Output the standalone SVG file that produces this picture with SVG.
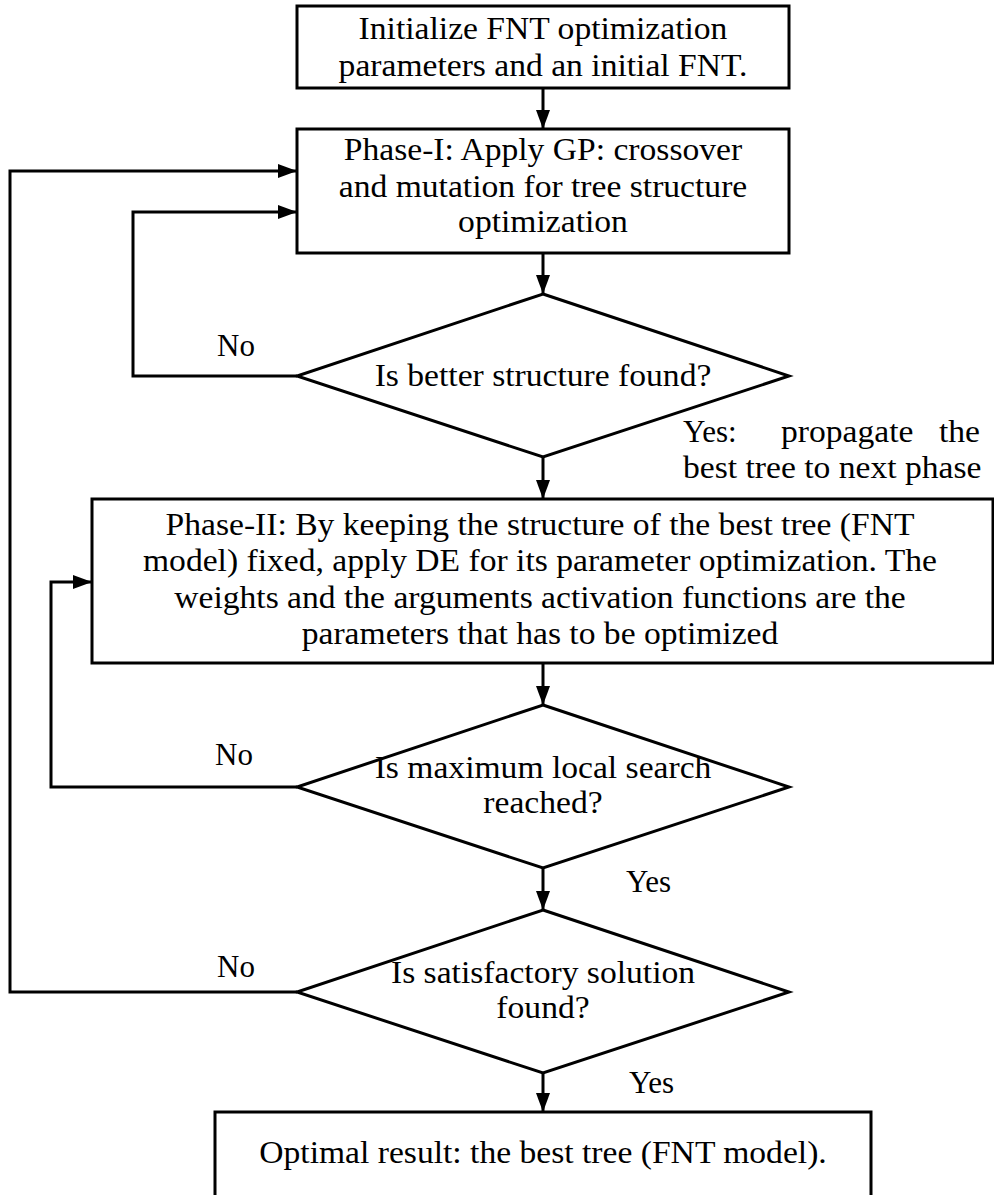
<svg xmlns="http://www.w3.org/2000/svg" width="994" height="1195" viewBox="0 0 994 1195" font-family="Liberation Serif, serif" font-size="32">
<defs>
<style>
.shape{fill:#fff;stroke:#000;stroke-width:3;stroke-linejoin:miter}
.conn{fill:none;stroke:#000;stroke-width:3;stroke-linejoin:miter}
text{fill:#000}
.c{text-anchor:middle}
.e{text-anchor:end}
</style>
<marker id="arr" viewBox="0 0 19 14" refX="19" refY="7" markerWidth="19" markerHeight="14" markerUnits="userSpaceOnUse" orient="auto">
<path d="M0,0 L19,7 L0,14 z" fill="#000"/>
</marker>
</defs>
<rect width="994" height="1195" fill="#fff"/>

<g id="connectors">
<path class="conn" d="M543,88 V129" marker-end="url(#arr)"/>
<path class="conn" d="M543,253 V294" marker-end="url(#arr)"/>
<path class="conn" d="M543,457 V499" marker-end="url(#arr)"/>
<path class="conn" d="M543,663 V705" marker-end="url(#arr)"/>
<path class="conn" d="M543,868 V910" marker-end="url(#arr)"/>
<path class="conn" d="M543,1073 V1112" marker-end="url(#arr)"/>
<path class="conn" d="M297,376 H133 V212 H297" marker-end="url(#arr)"/>
<path class="conn" d="M297,787 H51 V582 H92" marker-end="url(#arr)"/>
<path class="conn" d="M297,992 H10 V171 H297" marker-end="url(#arr)"/>
<text x="217" y="356" font-size="31">No</text>
<text x="683" y="442" font-size="31">Yes:</text>
<text transform="translate(781,442) scale(1.05,1)">propagate</text>
<text class="e" transform="translate(980,442) scale(1.05,1)">the</text>
<text transform="translate(683,478) scale(1.05,1)">best tree to next phase</text>
<text x="215" y="765" font-size="31">No</text>
<text x="626" y="892" font-size="31">Yes</text>
<text x="217" y="977" font-size="31">No</text>
<text x="629" y="1093" font-size="31">Yes</text>
</g>

<g id="init">
<rect class="shape" x="297" y="6" width="492" height="82"/>
<text class="c" transform="translate(543,39) scale(1.05,1)">Initialize FNT optimization</text>
<text class="c" transform="translate(543,76) scale(1.05,1)">parameters and an initial FNT.</text>
</g>

<g id="phase1">
<rect class="shape" x="297" y="129" width="492" height="124"/>
<text class="c" transform="translate(543,160) scale(1.05,1)">Phase-I: Apply GP: crossover</text>
<text class="c" transform="translate(543,197) scale(1.05,1)">and mutation for tree structure</text>
<text class="c" transform="translate(543,232) scale(1.05,1)">optimization</text>
</g>

<g id="decision1">
<polygon class="shape" points="543,294 789,376 543,457 297,376"/>
<text class="c" transform="translate(543,386) scale(1.05,1)">Is better structure found?</text>
</g>

<g id="phase2">
<rect class="shape" x="92" y="499" width="901" height="164"/>
<text class="c" transform="translate(540,535) scale(1.05,1)">Phase-II: By keeping the structure of the best tree (FNT</text>
<text class="c" transform="translate(540,571) scale(1.05,1)">model) fixed, apply DE for its parameter optimization. The</text>
<text class="c" transform="translate(540,608) scale(1.05,1)">weights and the arguments activation functions are the</text>
<text class="c" transform="translate(540,644) scale(1.05,1)">parameters that has to be optimized</text>
</g>

<g id="decision2">
<polygon class="shape" points="543,705 789,787 543,868 297,787"/>
<text class="c" transform="translate(543,778) scale(1.05,1)">Is maximum local search</text>
<text class="c" transform="translate(543,813) scale(1.05,1)">reached?</text>
</g>

<g id="decision3">
<polygon class="shape" points="543,910 789,992 543,1073 297,992"/>
<text class="c" transform="translate(543,983) scale(1.05,1)">Is satisfactory solution</text>
<text class="c" transform="translate(543,1018) scale(1.05,1)">found?</text>
</g>

<g id="result">
<path class="shape" d="M215,1200 V1112 H871 V1200"/>
<text class="c" transform="translate(543,1163) scale(1.05,1)">Optimal result: the best tree (FNT model).</text>
</g>
</svg>
